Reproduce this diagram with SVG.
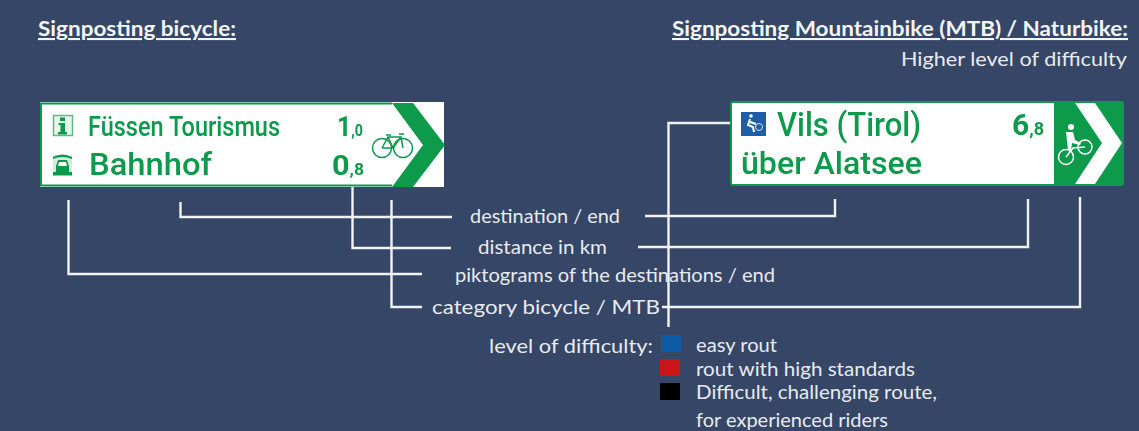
<svg xmlns="http://www.w3.org/2000/svg" width="1139" height="431" viewBox="0 0 1139 431">
<defs><filter id="soft" x="-2%" y="-5%" width="104%" height="110%"><feGaussianBlur stdDeviation="0.45"/></filter></defs>
<style>
.t{font-family:"Lato","Open Sans",sans-serif;font-size:20px;fill:#e8ebf0}
.l{font-family:"Lato","Open Sans",sans-serif;font-size:19.500px;fill:#e8ebf0}
.h{font-family:"Lato","Open Sans",sans-serif;font-size:21px;font-weight:700;fill:#f4f5f7;text-decoration:underline}
.s{font-family:"Roboto","Liberation Sans",sans-serif;font-weight:700;fill:#0a9a4c}
.m{font-family:"Roboto","Liberation Sans",sans-serif;font-weight:500;fill:#0a9a4c}
.c{fill:none;stroke:#f2f3f5;stroke-width:2.400}
.g{fill:#0a9a4c}
.bl{fill:none;stroke:#0a9a4c;stroke-width:1.500}
.wl{fill:none;stroke:#fff;stroke-width:1.500}
</style>
<rect width="1139" height="431" fill="#354666"/>
<g id="title-left"><text class="h" x="38" y="36" textLength="198" lengthAdjust="spacingAndGlyphs">Signposting bicycle:</text></g>
<g id="title-right"><text class="h" x="672" y="36" textLength="456" lengthAdjust="spacingAndGlyphs">Signposting Mountainbike (MTB) / Naturbike:</text><text class="t" x="901" y="66" textLength="226" lengthAdjust="spacingAndGlyphs">Higher level of difficulty</text></g>
<g id="sign-bicycle" filter="url(#soft)">
<rect x="40" y="102" width="404" height="85" fill="#fff"/>
<path d="M392 103.500H41V185.500H392" fill="none" stroke="#0a9a4c" stroke-width="2"/>
<path class="g" d="M392 103H413L445 145 413 187H392L423 145Z"/>
<rect x="53.500" y="115.500" width="19" height="20" fill="#e8f5ec" stroke="#5cb886" stroke-width="1.500"/>
<path class="g" d="M60 117.500h5v3.500h-5zM58.500 123h6.500v9h2v2.500h-9v-2.500h2.500v-7h-2z"/>
<text class="m" x="88" y="136" font-size="27.500" textLength="192" lengthAdjust="spacingAndGlyphs">Füssen Tourismus</text>
<rect x="53" y="155" width="19" height="20" fill="#d5ecdd"/>
<path class="g" d="M53 157q9-5 19 0v2q-10-4-19 0zM58 160h9l2 6v6h-13v-6zM53 172h19v3.500H53z"/>
<path fill="#fff" d="M59 162h7l1 4h-9z"/>
<text class="m" x="89" y="175" font-size="32" textLength="123" lengthAdjust="spacingAndGlyphs">Bahnhof</text>
<text class="s" x="337" y="136" font-size="28" textLength="26" lengthAdjust="spacingAndGlyphs">1<tspan font-size="16">,0</tspan></text>
<text class="s" x="332" y="175" font-size="28" textLength="32" lengthAdjust="spacingAndGlyphs">0<tspan font-size="16">,8</tspan></text>
<circle class="bl" cx="382" cy="148" r="9.500"/>
<circle class="bl" cx="403" cy="148" r="9.500"/>
<path class="bl" d="M382 148L388 137H401L403 148M388 137L393 148H382M393 148L401 137M386 135h5M399 134h5"/>
</g>
<g id="sign-mtb" filter="url(#soft)">
<rect x="730" y="101" width="394" height="85" rx="3" fill="#0a9a4c"/>
<rect x="732" y="103" width="322" height="81" fill="#fff"/>
<path fill="#fff" d="M1075 103H1095L1122 143 1095 184H1075L1102 143Z"/>
<rect x="741" y="112" width="25" height="24" fill="#1a5ea8"/>
<circle cx="751" cy="116" r="1.800" fill="#fff"/>
<path d="M750 119l-2 6 5 2 1 5M750 122l6 2" fill="none" stroke="#fff" stroke-width="2"/>
<circle cx="759" cy="127" r="3.500" fill="none" stroke="#cfe0f0"/>
<text class="m" x="777" y="136" font-size="33" textLength="144" lengthAdjust="spacingAndGlyphs">Vils (Tirol)</text>
<text class="m" x="741" y="174" font-size="32" textLength="181" lengthAdjust="spacingAndGlyphs">über Alatsee</text>
<text class="s" x="1012" y="135" font-size="30" textLength="32" lengthAdjust="spacingAndGlyphs">6<tspan font-size="18">,8</tspan></text>
<circle cx="1071" cy="127" r="3" fill="#fff"/>
<path fill="#fff" d="M1066 132h7l2 8 6 3-1 2-8-2-1 7h-3l-1-9z"/>
<circle class="wl" cx="1066" cy="157" r="7.500"/>
<circle class="wl" cx="1085" cy="147" r="7"/>
<path class="wl" d="M1066 157L1073 148 1085 147"/>
</g>
<g id="connectors">
<path class="c" d="M68.500 200V274H422"/>
<path class="c" d="M180.500 202V217H452"/>
<path class="c" d="M352.500 187V248H451"/>
<path class="c" d="M391.500 200V307H422"/>
<path class="c" d="M645 216H835V199"/>
<path class="c" d="M638 247H1028V199"/>
<path class="c" d="M662 307H1080V197"/>
<path class="c" d="M730 123H668.500V327"/>
</g>
<g id="labels">
<text class="t" x="470" y="223" textLength="150" lengthAdjust="spacingAndGlyphs">destination / end</text>
<text class="t" x="478" y="254" textLength="129" lengthAdjust="spacingAndGlyphs">distance in km</text>
<text class="t" x="455" y="282" textLength="320" lengthAdjust="spacingAndGlyphs">piktograms of the destinations / end</text>
<text class="t" x="432" y="314" textLength="228" lengthAdjust="spacingAndGlyphs">category bicycle / MTB</text>
</g>
<g id="legend">
<text class="t" x="489" y="353" textLength="164" lengthAdjust="spacingAndGlyphs">level of difficulty:</text>
<rect x="661" y="335" width="20" height="17" fill="#0d5aa7"/>
<rect x="660" y="359" width="20" height="17" fill="#c91517"/>
<rect x="660" y="383" width="20" height="17" fill="#000"/>
<text class="l" x="696" y="352" textLength="81" lengthAdjust="spacingAndGlyphs">easy rout</text>
<text class="l" x="696" y="376" textLength="219" lengthAdjust="spacingAndGlyphs">rout with high standards</text>
<text class="l" x="696" y="399" textLength="241" lengthAdjust="spacingAndGlyphs">Difficult, challenging route,</text>
<text class="l" x="696" y="427" textLength="192" lengthAdjust="spacingAndGlyphs">for experienced riders</text>
</g>
</svg>
